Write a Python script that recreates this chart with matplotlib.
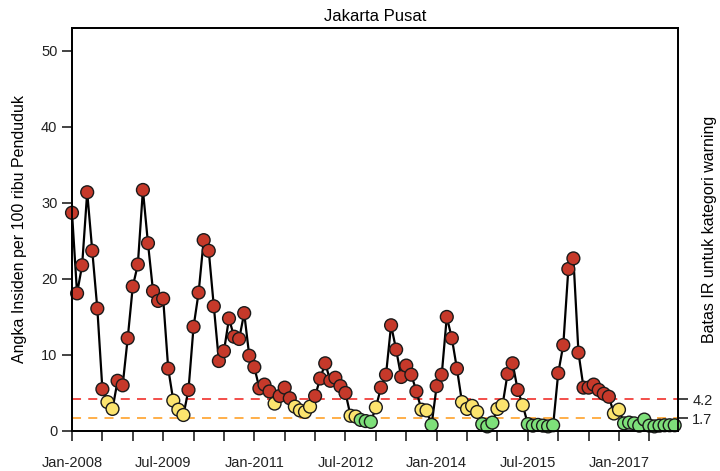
import matplotlib
matplotlib.use("Agg")
import matplotlib.pyplot as plt
import numpy as np

plt.rcParams['font.family'] = ['Liberation Sans', 'DejaVu Sans']

title = "Jakarta Pusat"
ylabel_left = "Angka Insiden per 100 ribu Penduduk"
ylabel_right = "Batas IR untuk kategori warning"

# Monthly incidence rate, Jan-2008 .. Dec-2017
ir = [
    28.7, 18.1, 21.8, 31.4, 23.7, 16.1, 5.5, 3.8, 2.9, 6.6, 6.0, 12.2,
    19.0, 21.9, 31.7, 24.7, 18.4, 17.1, 17.4, 8.2, 4.0, 2.8, 2.1, 5.4,
    13.7, 18.2, 25.1, 23.7, 16.4, 9.2, 10.5, 14.8, 12.4, 12.1, 15.5, 9.9,
    8.4, 5.6, 6.1, 5.2, 3.6, 4.6, 5.7, 4.3, 3.2, 2.7, 2.5, 3.2,
    4.6, 6.9, 8.9, 6.6, 7.0, 5.9, 5.0, 2.0, 1.9, 1.45, 1.3, 1.2,
    3.1, 5.7, 7.4, 13.9, 10.7, 7.1, 8.6, 7.4, 5.2, 2.8, 2.7, 0.8,
    5.9, 7.4, 15.0, 12.2, 8.2, 3.8, 2.9, 3.3, 2.5, 0.9, 0.6, 1.1,
    2.9, 3.4, 7.5, 8.9, 5.4, 3.4, 0.9, 0.7, 0.8, 0.7, 0.6, 0.75,
    7.6, 11.3, 21.3, 22.7, 10.3, 5.7, 5.7, 6.1, 5.4, 4.9, 4.5, 2.3,
    2.8, 1.0, 1.1, 1.0, 0.7, 1.5, 0.7, 0.6, 0.7, 0.75, 0.75, 0.75,
]

# Warning thresholds
upper_limit = 4.2
lower_limit = 1.7

# Date ticks every 6 months, labelled every 18 months
tick_months = list(range(0, 120, 6))
label_months = [0, 18, 36, 54, 72, 90, 108]
tick_labels = ["Jan-2008", "Jul-2009", "Jan-2011", "Jul-2012",
               "Jan-2014", "Jul-2015", "Jan-2017"]

months = np.arange(len(ir))
vals = np.array(ir)

red = "#C6392A"
yellow = "#FCE46E"
green = "#7EE07A"
colors = np.where(vals >= upper_limit, red,
                  np.where(vals >= lower_limit, yellow, green))

fig = plt.figure(figsize=(7.2, 4.71), dpi=100)
ax = fig.add_axes([0.1, 0.085, 0.8413, 0.8555])

ax.axhline(upper_limit, color="#F2403C", lw=1.3, ls=(0, (5, 4)), zorder=1)
ax.axhline(lower_limit, color="#FFA93A", lw=1.3, ls=(0, (5, 4)), zorder=1)

ax.plot(months, vals, color="black", lw=1.6, zorder=2, clip_on=False)
ax.scatter(months, vals, s=85, c=list(colors), edgecolors="#1a1a1a",
           linewidths=1.0, zorder=3, clip_on=False)

ax.set_xlim(0, 119.6)
ax.set_ylim(0, 53)

ax.set_yticks([0, 10, 20, 30, 40, 50])
ax.tick_params(axis="y", direction="out", length=7, width=1.2, labelsize=10.5,
               colors="#222222")
ax.set_xticks(tick_months)
ax.set_xticklabels([tick_labels[label_months.index(m)] if m in label_months else ""
                    for m in tick_months])
ax.tick_params(axis="x", direction="out", length=7, width=1.2, labelsize=10.5,
               pad=11, colors="#222222")

for sp in ax.spines.values():
    sp.set_linewidth(1.3)

ax.set_title(title, fontsize=12, pad=5)
ax.set_ylabel(ylabel_left, fontsize=11.5, labelpad=10)

ax2 = ax.twinx()
ax2.set_ylim(ax.get_ylim())
ax2.set_yticks([upper_limit, lower_limit])
ax2.set_yticklabels(["4.2", "1.7"])
ax2.tick_params(axis="y", direction="out", length=7, width=1.2, labelsize=10.5,
                colors="#222222")
for sp in ax2.spines.values():
    sp.set_linewidth(1.3)

# Right-hand axis title, placed in figure coordinates
fig.text(0.986, 0.513, ylabel_right, rotation=90, fontsize=11.5,
         ha="center", va="center")

fig.savefig("out.png", dpi=100)
